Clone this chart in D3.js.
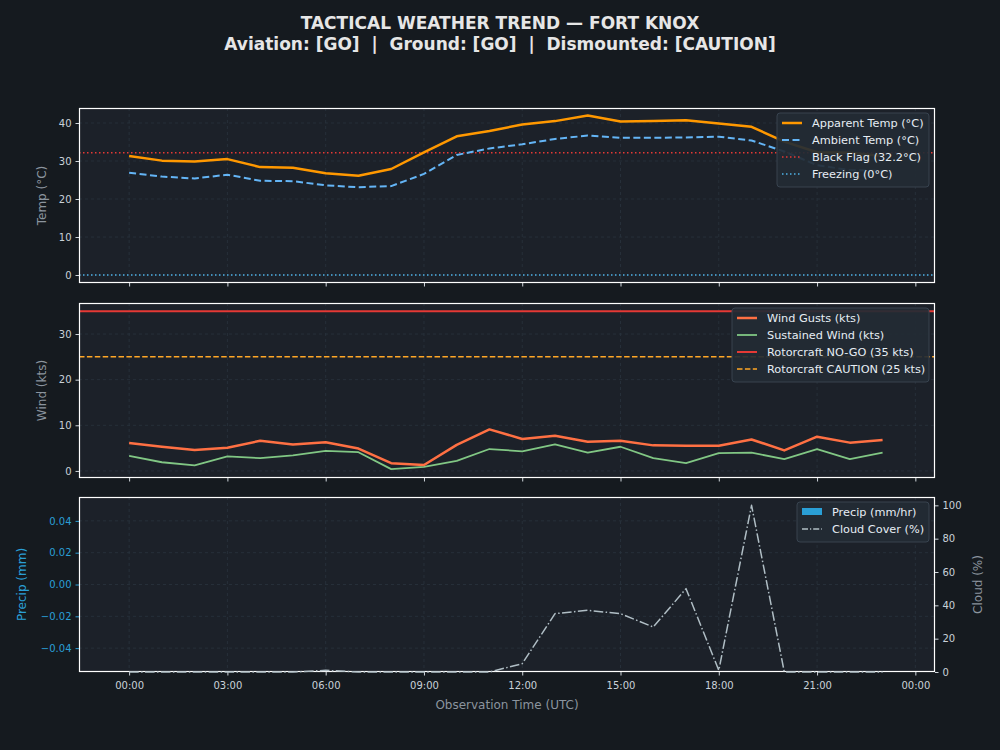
<!DOCTYPE html>
<html>
<head>
<meta charset="utf-8">
<script src="https://cdn.jsdelivr.net/npm/d3@7"></script>
<style>
  body { margin: 0; background: #151a1f; }
  svg { display: block; font-family: "DejaVu Sans", sans-serif; }
</style>
</head>
<body>
<svg id="chart"></svg>
<script>
// hourly observations, hour 0..23 (UTC)
const hours = d3.range(0, 24);
const apparentTemp = [31.3, 30.1, 29.9, 30.5, 28.4, 28.2, 26.8, 26.1, 27.9, 32.3, 36.5, 37.9,
  39.6, 40.5, 42.0, 40.4, 40.5, 40.7, 39.9, 39.0, 35.1, 32.3, 32.2, 31.3];
const ambientTemp = [26.9, 25.9, 25.4, 26.4, 24.8, 24.7, 23.6, 23.1, 23.4, 26.6, 31.6, 33.3,
  34.4, 35.8, 36.7, 36.1, 36.1, 36.2, 36.4, 35.4, 32.5, 28.9, 27.6, 27.4];
const windGusts = [6.1, 5.3, 4.6, 5.1, 6.6, 5.8, 6.3, 4.9, 1.7, 1.3, 5.7, 9.1,
  7.0, 7.7, 6.4, 6.6, 5.6, 5.5, 5.5, 6.9, 4.5, 7.5, 6.2, 6.8];
const sustainedWind = [3.3, 1.9, 1.2, 3.2, 2.8, 3.4, 4.4, 4.1, 0.4, 0.9, 2.2, 4.8,
  4.3, 5.8, 4.0, 5.3, 2.8, 1.7, 3.9, 4.0, 2.6, 4.8, 2.6, 4.0];
const precip = [0, 0, 0, 0, 0, 0, 0, 0, 0, 0, 0, 0, 0, 0, 0, 0, 0, 0, 0, 0, 0, 0, 0, 0];
const cloudCover = [0, 0, 0, 0, 0, 0, 1, 0, 0, 0, 0, 0, 5, 35, 37, 35, 27, 50, 1, 100, 0, 0, 0, 0];

const blackFlag = 32.2, freezing = 0, noGo = 35, caution = 25;
const timeTicks = [0, 3, 6, 9, 12, 15, 18, 21, 24];
const tempTicks = [0, 10, 20, 30, 40];
const windTicks = [0, 10, 20, 30];
const precipTicks = [-0.04, -0.02, 0, 0.02, 0.04];
const cloudTicks = [0, 20, 40, 60, 80, 100];

const width = 1000, height = 750;
const left = 79, right = 935;
const panels = [
  { top: 108, bottom: 283 },
  { top: 303, bottom: 478 },
  { top: 497, bottom: 672 }
];

const svg = d3.select('#chart').attr('width', width).attr('height', height);
svg.append('rect').attr('width', width).attr('height', height).attr('fill', '#151a1f');

// title
const title = svg.append('text').attr('x', 500).attr('text-anchor', 'middle')
  .attr('fill', '#e6e6e6').style('font-weight', 'bold').style('font-size', '17px')
  .style('white-space', 'pre');
title.append('tspan').attr('x', 500).attr('y', 29).text('TACTICAL WEATHER TREND — FORT KNOX');
title.append('tspan').attr('x', 500).attr('y', 50).text('Aviation: [GO]  |  Ground: [GO]  |  Dismounted: [CAUTION]');

const x = d3.scaleLinear().domain([-1.53, 24.6]).range([left, right]);
const yTemp = d3.scaleLinear().domain([-2.1, 43.95]).range([panels[0].bottom, panels[0].top]);
const yWind = d3.scaleLinear().domain([-1.55, 36.8]).range([panels[1].bottom, panels[1].top]);
const yPrecip = d3.scaleLinear().domain([-0.055, 0.055]).range([panels[2].bottom, panels[2].top]);
const yCloud = d3.scaleLinear().domain([0, 105]).range([panels[2].bottom, panels[2].top]);

const timeFmt = h => String(h % 24).padStart(2, '0') + ':00';
const minusFmt = f => v => f(v).replace('-', '\u2212');

const gridColor = '#2a333e';
const tickText = '#c9d1d9';
const labelColor = '#8b949e';
const precipColor = '#2a9fd6';

function drawPanel(i, yScale, yTicks, yFmt, yColor) {
  const p = panels[i];
  const g = svg.append('g');
  g.append('rect').attr('x', left).attr('y', p.top).attr('width', right - left)
    .attr('height', p.bottom - p.top).attr('fill', '#1c2129');

  // grid
  g.selectAll('.vg').data(timeTicks).enter().append('line')
    .attr('x1', d => x(d)).attr('x2', d => x(d)).attr('y1', p.top).attr('y2', p.bottom)
    .attr('stroke', gridColor).attr('stroke-width', 0.8).attr('stroke-dasharray', '3,3');
  g.selectAll('.hg').data(yTicks).enter().append('line')
    .attr('x1', left).attr('x2', right).attr('y1', d => yScale(d)).attr('y2', d => yScale(d))
    .attr('stroke', gridColor).attr('stroke-width', 0.8).attr('stroke-dasharray', '3,3');

  // clip for data (a little slack at the bottom so zero-lines show over the spine)
  svg.append('clipPath').attr('id', 'clip' + i).append('rect')
    .attr('x', left).attr('y', p.top).attr('width', right - left).attr('height', p.bottom - p.top + 1);

  // axes
  const xAxis = d3.axisBottom(x).tickValues(timeTicks).tickSize(3.5).tickPadding(6)
    .tickFormat(i === 2 ? timeFmt : () => '');
  const ax = svg.append('g').attr('transform', `translate(0,${p.bottom})`).call(xAxis);
  const yAxis = d3.axisLeft(yScale).tickValues(yTicks).tickSize(3.5).tickPadding(4).tickFormat(yFmt);
  const ay = svg.append('g').attr('transform', `translate(${left},0)`).call(yAxis);
  [ax, ay].forEach(a => {
    a.select('.domain').remove();
    a.selectAll('line').attr('stroke', '#d0d6dc');
    a.selectAll('text').attr('fill', tickText).style('font-size', '10px')
      .style('font-family', '"DejaVu Sans", sans-serif');
  });
  if (yColor) {
    ay.selectAll('text').attr('fill', yColor);
    ay.selectAll('line').attr('stroke', yColor);
  }
  return g;
}

function frame(i) {
  const p = panels[i];
  svg.append('rect').attr('x', left + 0.5).attr('y', p.top + 0.5).attr('width', right - left - 1)
    .attr('height', p.bottom - p.top - 1).attr('fill', 'none').attr('stroke', '#ffffff').attr('stroke-width', 1.2);
}

function yLabel(text, xPos, p, color, rot) {
  svg.append('text').attr('transform', `translate(${xPos},${(p.top + p.bottom) / 2}) rotate(${rot})`)
    .attr('text-anchor', 'middle').attr('fill', color).style('font-size', '12px').text(text);
}

function legend(xPos, yPos, w, items) {
  const g = svg.append('g').attr('transform', `translate(${xPos},${yPos})`);
  g.append('rect').attr('width', w).attr('height', items.length * 17 + 6).attr('rx', 3)
    .attr('fill', '#232b34').attr('fill-opacity', 0.92).attr('stroke', '#38434f');
  items.forEach((it, k) => {
    const cy = 10 + k * 17;
    if (it.patch) {
      g.append('rect').attr('x', 5).attr('y', cy - 4).attr('width', 20).attr('height', 7).attr('fill', it.color);
    } else {
      g.append('line').attr('x1', 5).attr('x2', 25).attr('y1', cy).attr('y2', cy)
        .attr('stroke', it.color).attr('stroke-width', it.w).attr('stroke-dasharray', it.dash || null);
    }
    g.append('text').attr('x', 35).attr('y', cy + 4).attr('fill', '#e6edf3')
      .style('font-size', '11.3px').text(it.label);
  });
}

function hLine(i, yScale, v, color, w, dash) {
  svg.append('line').attr('clip-path', `url(#clip${i})`)
    .attr('x1', left).attr('x2', right).attr('y1', yScale(v)).attr('y2', yScale(v))
    .attr('stroke', color).attr('stroke-width', w).attr('stroke-dasharray', dash || null);
}

function series(i, yScale, values, color, w, dash) {
  const line = d3.line().x((d, k) => x(hours[k])).y(d => yScale(d));
  svg.append('path').datum(values).attr('clip-path', `url(#clip${i})`)
    .attr('d', line).attr('fill', 'none').attr('stroke', color).attr('stroke-width', w)
    .attr('stroke-linejoin', 'round').attr('stroke-dasharray', dash || null);
}

// panel 1: temperature
drawPanel(0, yTemp, tempTicks, d3.format('d'));
hLine(0, yTemp, blackFlag, '#e53935', 1.5, '1.5,2.5');
hLine(0, yTemp, freezing, '#4fb3e8', 1.5, '1.5,2.5');
series(0, yTemp, ambientTemp, '#64b5f6', 2, '7,3.5');
series(0, yTemp, apparentTemp, '#ff9800', 2.5);
frame(0);
yLabel('Temp (°C)', 46, panels[0], labelColor, -90);
legend(777, 113, 152, [
  { label: 'Apparent Temp (°C)', color: '#ff9800', w: 2.5 },
  { label: 'Ambient Temp (°C)', color: '#64b5f6', w: 2, dash: '7,3.5' },
  { label: 'Black Flag (32.2°C)', color: '#e53935', w: 1.5, dash: '1.5,2.5' },
  { label: 'Freezing (0°C)', color: '#4fb3e8', w: 1.5, dash: '1.5,2.5' }
]);

// panel 2: wind
drawPanel(1, yWind, windTicks, d3.format('d'));
hLine(1, yWind, noGo, '#e53935', 2);
hLine(1, yWind, caution, '#ffa726', 1.5, '5.5,2.4');
series(1, yWind, sustainedWind, '#81c784', 1.8);
series(1, yWind, windGusts, '#ff7043', 2.5);
frame(1);
yLabel('Wind (kts)', 46, panels[1], labelColor, -90);
legend(732, 308, 197, [
  { label: 'Wind Gusts (kts)', color: '#ff7043', w: 2.5 },
  { label: 'Sustained Wind (kts)', color: '#81c784', w: 1.8 },
  { label: 'Rotorcraft NO-GO (35 kts)', color: '#e53935', w: 2 },
  { label: 'Rotorcraft CAUTION (25 kts)', color: '#ffa726', w: 1.5, dash: '5.5,2.4' }
]);

// panel 3: precipitation + cloud cover
drawPanel(2, yPrecip, precipTicks, minusFmt(d3.format('.2f')), precipColor);
svg.append('g').attr('clip-path', 'url(#clip2)').selectAll('rect.bar').data(precip).enter().append('rect')
  .attr('x', (d, k) => x(hours[k] - 0.4)).attr('width', x(0.8) - x(0))
  .attr('y', d => Math.min(yPrecip(d), yPrecip(0)))
  .attr('height', d => Math.abs(yPrecip(d) - yPrecip(0)))
  .attr('fill', precipColor).attr('opacity', 0.8);
frame(2);
series(2, yCloud, cloudCover, '#b0bec5', 1.5, '9.6,2.4,1.5,2.4');
const ac = svg.append('g').attr('transform', `translate(${right},0)`)
  .call(d3.axisRight(yCloud).tickValues(cloudTicks).tickSize(3.5).tickPadding(4));
ac.select('.domain').remove();
ac.selectAll('line').attr('stroke', '#d0d6dc');
ac.selectAll('text').attr('fill', tickText).style('font-size', '10px')
  .style('font-family', '"DejaVu Sans", sans-serif');
yLabel('Precip (mm)', 26, panels[2], precipColor, -90);
yLabel('Cloud (%)', 982, panels[2], labelColor, -90);
legend(797, 502, 132, [
  { label: 'Precip (mm/hr)', color: precipColor, patch: true },
  { label: 'Cloud Cover (%)', color: '#b0bec5', w: 1.5, dash: '6,2,1.2,2' }
]);

svg.append('text').attr('x', (left + right) / 2).attr('y', 709).attr('text-anchor', 'middle')
  .attr('fill', labelColor).style('font-size', '12px').text('Observation Time (UTC)');
</script>
</body>
</html>
